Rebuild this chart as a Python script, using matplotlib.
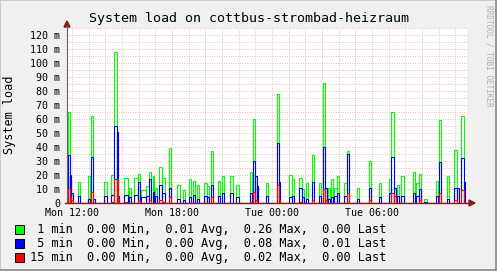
import numpy as np
import matplotlib
matplotlib.use('Agg')
from matplotlib import pyplot as plt
from matplotlib.patches import Rectangle

# time window: hours since Mon 00:00
t_start, t_end = 11.70, 35.70

# spikes: start / end (hours since Mon 00:00) and load in milli-units
starts = [11.70, 11.76, 11.88, 11.94, 12.36, 12.96, 13.14, 13.26, 13.92, 14.34,
          14.52, 14.70, 14.76, 15.12, 15.42, 15.72, 15.96, 16.14, 16.44, 16.62,
          16.86, 16.98, 17.22, 17.40, 17.82, 18.30, 18.66, 19.02, 19.26, 19.50,
          19.92, 20.10, 20.34, 20.76, 21.00, 21.48, 21.84, 22.68, 22.86, 22.98,
          23.10, 23.64, 24.30, 24.42, 25.02, 25.20, 25.62, 25.80, 26.04, 26.40,
          26.82, 27.06, 27.18, 27.36, 27.54, 27.72, 27.90, 28.32, 28.50, 29.10,
          29.82, 30.42, 31.02, 31.14, 31.32, 31.50, 31.74, 32.46, 32.64, 32.82,
          33.12, 33.84, 34.02, 34.50, 34.92, 35.10, 35.34, 35.52]
ends = [11.76, 11.88, 11.94, 12.06, 12.48, 13.08, 13.26, 13.38, 14.10, 14.52,
        14.70, 14.76, 14.82, 15.36, 15.54, 15.96, 16.08, 16.44, 16.62, 16.74,
        16.92, 17.10, 17.40, 17.58, 17.94, 18.48, 18.78, 19.14, 19.38, 19.62,
        20.10, 20.22, 20.46, 20.88, 21.12, 21.66, 22.02, 22.80, 22.98, 23.10,
        23.16, 23.76, 24.42, 24.48, 25.20, 25.32, 25.80, 25.92, 26.16, 26.52,
        26.94, 27.18, 27.30, 27.48, 27.66, 27.90, 28.02, 28.50, 28.62, 29.22,
        29.94, 30.54, 31.14, 31.32, 31.44, 31.62, 31.92, 32.58, 32.82, 32.94,
        33.30, 33.96, 34.14, 34.62, 35.10, 35.22, 35.52, 35.58]
load_1 = [20, 65, 20, 7, 15, 19, 62, 3, 15, 20,
          108, 44, 5, 18, 11, 18, 21, 9, 12, 22,
          19, 11, 26, 18, 39, 13, 9, 17, 16, 13,
          14, 12, 37, 16, 19, 19, 13, 22, 60, 19,
          12, 14, 78, 15, 20, 17, 18, 10, 14, 34,
          14, 86, 11, 11, 17, 11, 19, 14, 37, 11,
          30, 14, 17, 65, 11, 13, 19, 22, 14, 21,
          3, 16, 59, 19, 38, 11, 62, 15]
load_5 = [19, 34, 20, 7, 5, 3, 33, 3, 5, 6,
          55, 51, 5, 6, 4, 6, 15, 4, 5, 17,
          8, 5, 13, 7, 11, 3, 2, 4, 6, 3,
          5, 4, 13, 5, 7, 7, 4, 7, 30, 19,
          12, 5, 43, 15, 4, 5, 11, 4, 3, 15,
          5, 40, 11, 3, 4, 5, 7, 5, 35, 3,
          11, 4, 7, 33, 11, 5, 5, 7, 5, 10,
          1, 5, 29, 3, 11, 11, 32, 15]
load_15 = [11, 11, 4, 2, 0, 1, 8, 0, 0, 1,
           17, 17, 3, 1, 0, 0, 2, 0, 0, 2,
           0, 0, 2, 1, 4, 0, 0, 0, 0, 0,
           0, 0, 4, 0, 0, 0, 0, 1, 8, 2,
           0, 0, 13, 2, 0, 0, 1, 0, 0, 2,
           0, 10, 2, 0, 0, 0, 0, 0, 7, 0,
           2, 0, 0, 7, 5, 0, 0, 0, 0, 2,
           0, 0, 7, 0, 2, 0, 9, 1]

major_ticks = [12, 18, 24, 30]
major_labels = ['Mon 12:00', 'Mon 18:00', 'Tue 00:00', 'Tue 06:00']
y_ticks = [0, 10, 20, 30, 40, 50, 60, 70, 80, 90, 100, 110, 120]

legend_rows = [
    ('#00FF00', ' 1 min  0.00 Min,  0.01 Avg,  0.26 Max,  0.00 Last'),
    ('#0000FF', ' 5 min  0.00 Min,  0.00 Avg,  0.08 Max,  0.01 Last'),
    ('#FF0000', '15 min  0.00 Min,  0.00 Avg,  0.02 Max,  0.00 Last'),
]

W, H = 497, 271
mono = 'DejaVu Sans Mono'
pink = (0.95, 0.72, 0.72)
grey = (0.80, 0.80, 0.80)


def fx(x):
    return x / W


def fy(y):
    return 1 - y / H


def steps(s, e, v):
    xs, ys = [t_start], [0]
    for a, b, c in zip(s, e, v):
        xs += [a, a, b, b]
        ys += [0, c, c, 0]
    xs.append(t_end)
    ys.append(0)
    return xs, ys


fig = plt.figure(figsize=(W / 100, H / 100), dpi=100, facecolor='#F0F0F0')

# 3d frame
fig.patches.append(Rectangle((0, 0), 1, 1, transform=fig.transFigure, fill=False,
                             edgecolor='#CBCBCB', lw=1.4))
fig.add_artist(plt.Line2D([fx(1), fx(496)], [fy(270), fy(270)], color='#999999', lw=1.5))
fig.add_artist(plt.Line2D([fx(496), fx(496)], [fy(1), fy(270)], color='#999999', lw=1.5))

ax = fig.add_axes([fx(67), fy(203), 400 / W, 175 / H])
ax.set_facecolor('white')
ax.set_xlim(t_start, t_end)
ax.set_ylim(0, 125)

# grid
for h in range(12, 36):
    ax.axvline(h, color=pink if h % 3 == 0 else grey, lw=0.7, ls=(0, (1, 1.4)), zorder=1)
for v in range(5, 126, 5):
    ax.axhline(v, color=pink, lw=0.7, ls=(0, (1, 1.4)), zorder=1)

for vals, col in [(load_1, '#00FF00'), (load_5, '#0000FF'), (load_15, '#FF0000')]:
    xs, ys = steps(starts, ends, vals)
    ax.plot(xs, ys, color=col, lw=0.8, zorder=3, solid_joinstyle='miter')

for s in ax.spines.values():
    s.set_visible(False)

ax.set_xticks(major_ticks)
ax.set_xticklabels(major_labels, fontfamily=mono, fontsize=7.2)
ax.set_yticks(y_ticks)
ax.set_yticklabels(['0'] + ['%d m' % v for v in y_ticks[1:]], fontfamily=mono, fontsize=7.2)
ax.tick_params(axis='x', length=0, pad=3.5)
ax.tick_params(axis='y', length=0, pad=5)

# axes with arrows
fig.add_artist(plt.Line2D([fx(67), fx(67)], [fy(203), fy(26)], color='#666666', lw=0.8))
fig.add_artist(plt.Line2D([fx(65), fx(470)], [fy(203), fy(203)], color='#801F1F', lw=1.0))
fig.add_artist(plt.Polygon([(fx(64), fy(27)), (fx(70), fy(27)), (fx(67), fy(21))],
                           closed=True, color='#801F1F', transform=fig.transFigure))
fig.add_artist(plt.Polygon([(fx(469), fy(200)), (fx(469), fy(206)), (fx(475), fy(203))],
                           closed=True, color='#801F1F', transform=fig.transFigure))

fig.text(fx(249), fy(19), 'System load on cottbus-strombad-heizraum', fontfamily=mono,
         fontsize=9.6, ha='center', va='center')
fig.text(fx(10), fy(115), 'System load', fontfamily=mono, fontsize=8.6,
         rotation=90, ha='center', va='center')
fig.text(fx(489), fy(5), 'RRDTOOL / TOBI OETIKER', fontfamily=mono, fontsize=5.6,
         rotation=270, ha='center', va='top', color='#B0B0B0')

for i, (col, txt) in enumerate(legend_rows):
    yc = 229 + 14 * i
    fig.patches.append(Rectangle((fx(15), fy(yc + 4.5)), 9 / W, 9 / H, transform=fig.transFigure,
                                 facecolor=col, edgecolor='black', lw=0.7))
    fig.text(fx(30), fy(yc), txt, fontfamily=mono, fontsize=8.6, ha='left', va='center')

fig.savefig('out.png', dpi=100, facecolor=fig.get_facecolor())
